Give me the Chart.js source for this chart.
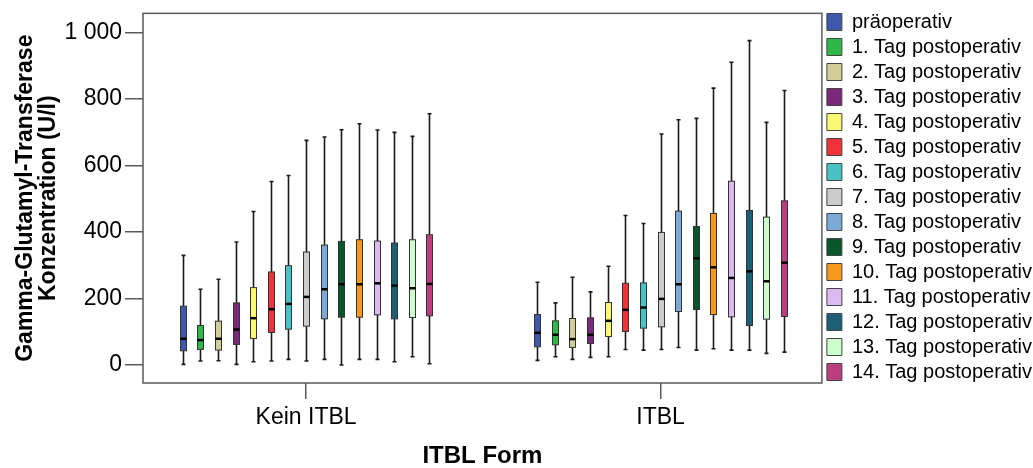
<!DOCTYPE html>
<html>
<head>
<meta charset="utf-8">
<script src="https://cdn.jsdelivr.net/npm/chart.js@4/dist/chart.umd.min.js"></script>
<style>
  body { margin: 0; background: #fff; }
  #wrap { width: 1033px; height: 468px; }
</style>
</head>
<body>
<div id="wrap"><canvas id="ggtChart" width="1033" height="468"></canvas></div>
<script>
// groups on the x axis
const groups = ['Kein ITBL', 'ITBL'];
const seriesNames = ['präoperativ', '1. Tag postoperativ', '2. Tag postoperativ', '3. Tag postoperativ',
    '4. Tag postoperativ', '5. Tag postoperativ', '6. Tag postoperativ', '7. Tag postoperativ',
    '8. Tag postoperativ', '9. Tag postoperativ', '10. Tag postoperativ', '11. Tag postoperativ',
    '12. Tag postoperativ', '13. Tag postoperativ', '14. Tag postoperativ'];
const seriesColors = ['#3e58ac', '#2eb848', '#d3ce97', '#7c287d', '#fbf873', '#ef3338', '#48c2c5',
    '#cccccc', '#7aaad5', '#0a562c', '#f8981d', '#ddb9f1', '#1a5f76', '#ccffcc', '#bb3f7f'];

// box plot statistics (U/l)
const keinMin = [2, 12, 13, 2, 10, 12, 17, 12, 17, 0, 17, 17, 10, 25, 4];
const keinQ1  = [43, 47, 45, 62, 80, 98, 108, 117, 139, 144, 144, 151, 139, 143, 148];
const keinMed = [79, 75, 79, 107, 141, 168, 184, 205, 228, 243, 243, 246, 239, 231, 244];
const keinQ3  = [177, 119, 132, 187, 233, 280, 299, 340, 361, 372, 377, 373, 367, 377, 392];
const keinMax = [330, 228, 258, 370, 462, 552, 570, 676, 686, 708, 726, 707, 700, 688, 756];

const itblMin = [14, 25, 17, 23, 25, 47, 45, 47, 53, 45, 49, 45, 45, 35, 39];
const itblQ1  = [55, 61, 53, 65, 86, 101, 111, 115, 161, 167, 152, 145, 119, 138, 146];
const itblMed = [97, 91, 78, 91, 133, 166, 173, 199, 243, 321, 294, 262, 282, 252, 308];
const itblQ3  = [152, 133, 140, 142, 188, 246, 247, 399, 463, 417, 456, 553, 465, 445, 494];
const itblMax = [249, 187, 264, 220, 297, 450, 426, 695, 738, 742, 833, 911, 976, 730, 826];

const yTickValues = [0, 200, 400, 600, 800, 1000];
const yTickLabels = ['0', '200', '400', '600', '800', '1 000'];

const boxStep = 0.0497;   // distance between neighbouring boxes, in x units
const boxHalf = 3;        // px

const datasets = seriesNames.map((name, i) => ({
    label: name,
    data: [],
    backgroundColor: seriesColors[i],
    borderColor: '#444',
    borderWidth: 1,
    stats: [
        [keinMin[i], keinQ1[i], keinMed[i], keinQ3[i], keinMax[i]],
        [itblMin[i], itblQ1[i], itblMed[i], itblQ3[i], itblMax[i]]
    ]
}));

const boxPlots = {
    id: 'boxPlots',
    afterDatasetsDraw(chart) {
        const {ctx, scales: {x, y}} = chart;
        ctx.save();
        chart.data.datasets.forEach((ds, i) => {
            ds.stats.forEach((s, g) => {
                const cx = Math.round(x.getPixelForValue(g + (i - 7) * boxStep)) + 0.5;
                const [lo, q1, med, q3, hi] = s.map(v => y.getPixelForValue(v));
                // whiskers
                ctx.strokeStyle = '#1a1a1a';
                ctx.lineWidth = 1.6;
                ctx.beginPath();
                ctx.moveTo(cx, hi); ctx.lineTo(cx, q3);
                ctx.moveTo(cx, q1); ctx.lineTo(cx, lo);
                ctx.moveTo(cx - 2, hi); ctx.lineTo(cx + 2, hi);
                ctx.moveTo(cx - 2, lo); ctx.lineTo(cx + 2, lo);
                ctx.stroke();
                // box
                ctx.fillStyle = ds.backgroundColor;
                ctx.fillRect(cx - boxHalf, q3, boxHalf * 2, q1 - q3);
                ctx.strokeStyle = '#333';
                ctx.lineWidth = 1;
                ctx.strokeRect(cx - boxHalf, q3, boxHalf * 2, q1 - q3);
                // median
                ctx.strokeStyle = '#000';
                ctx.lineWidth = 2.5;
                ctx.beginPath();
                ctx.moveTo(cx - boxHalf, med);
                ctx.lineTo(cx + boxHalf, med);
                ctx.stroke();
            });
        });
        ctx.restore();
    }
};

const plotFrame = {
    id: 'plotFrame',
    afterDraw(chart) {
        const {ctx, chartArea: a} = chart;
        ctx.save();
        ctx.strokeStyle = '#5a5a5a';
        ctx.lineWidth = 1.5;
        ctx.strokeRect(a.left, a.top, a.right - a.left, a.bottom - a.top);
        ctx.restore();
    }
};

Chart.defaults.font.family = '"Liberation Sans", Arial, sans-serif';
Chart.defaults.color = '#000';

new Chart('ggtChart', {
    type: 'scatter',
    data: { datasets: datasets },
    plugins: [boxPlots, plotFrame],
    options: {
        responsive: false,
        animation: false,
        layout: { padding: { left: 0, right: -9, top: 7, bottom: 0 } },
        plugins: {
            tooltip: { enabled: false },
            legend: {
                position: 'right',
                align: 'start',
                labels: {
                    boxWidth: 15,
                    boxHeight: 17,
                    padding: 5,
                    color: '#000',
                    font: { size: 20 }
                }
            }
        },
        scales: {
            x: {
                type: 'linear',
                min: -0.46,
                max: 1.455,
                afterBuildTicks: scale => { scale.ticks = groups.map((g, i) => ({ value: i })); },
                afterFit: scale => { scale.height = 85; },
                border: { display: false },
                grid: { drawOnChartArea: false, tickLength: 16, color: '#5a5a5a', lineWidth: 1.5 },
                ticks: {
                    padding: 5,
                    font: { size: 23 },
                    callback: (value) => groups[value]
                },
                title: {
                    display: true,
                    text: 'ITBL Form',
                    font: { size: 24, weight: 'bold', lineHeight: 1 },
                    padding: { top: 0, bottom: 0 }
                }
            },
            y: {
                min: -54,
                max: 1058,
                afterBuildTicks: scale => { scale.ticks = yTickValues.map(v => ({ value: v })); },
                afterFit: scale => { scale.width = 143; },
                border: { display: false },
                grid: { drawOnChartArea: false, tickLength: 18, color: '#5a5a5a', lineWidth: 1.5 },
                ticks: {
                    padding: 3,
                    font: { size: 23, lineHeight: 0.9 },
                    callback: (value) => yTickLabels[yTickValues.indexOf(value)]
                },
                title: {
                    display: true,
                    text: ['Gamma-Glutamyl-Transferase', 'Konzentration (U/l)'],
                    font: { size: 23, weight: 'bold', lineHeight: 1 },
                    padding: { top: 14, bottom: 0 }
                }
            }
        }
    }
});
</script>
</body>
</html>
